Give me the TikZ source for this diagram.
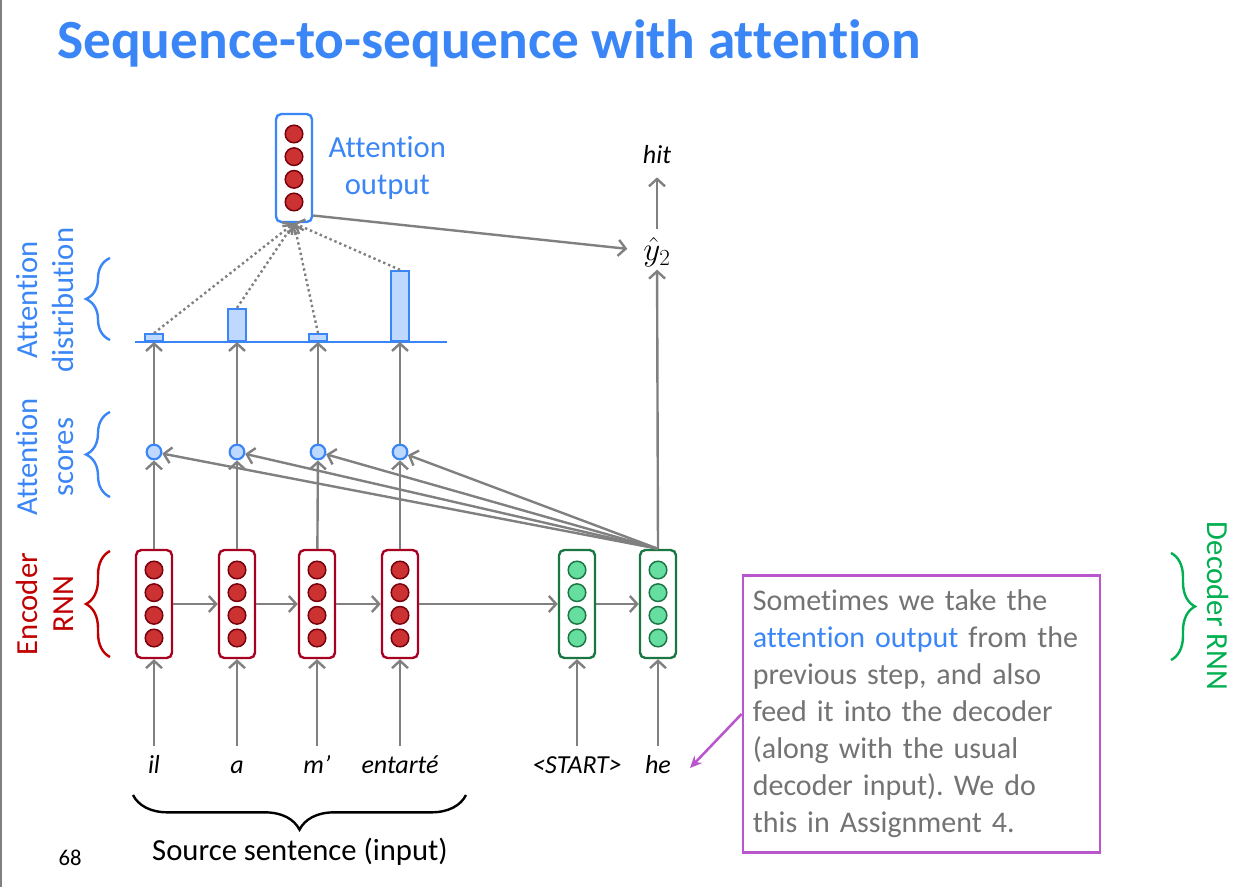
\documentclass[tikz,border=0pt]{standalone}
\usepackage{amsmath}
\usepackage{fontspec}
\setmainfont{Carlito}[Ligatures=NoCommon]
\usetikzlibrary{arrows.meta,positioning,calc,decorations.pathreplacing}
\definecolor{AttBlue}{RGB}{59,134,246}
\definecolor{AttLight}{RGB}{191,216,255}
\definecolor{EncRed}{RGB}{168,0,32}
\definecolor{EncDot}{RGB}{204,50,50}
\definecolor{EncDotLine}{RGB}{120,0,12}
\definecolor{DecGreen}{RGB}{28,118,68}
\definecolor{DecDot}{RGB}{102,222,160}
\definecolor{LabelRed}{RGB}{192,0,0}
\definecolor{LabelGreen}{RGB}{0,176,80}
\definecolor{ArrGray}{RGB}{128,128,128}
\definecolor{NoteGray}{RGB}{115,115,115}
\definecolor{NotePurple}{RGB}{185,85,205}
\frenchspacing

\begin{document}
\begin{tikzpicture}[
  x=0.75pt, y=-0.75pt,
  cell/.style n args={3}{draw=#1, line width=1.8pt, rounded corners=4pt, fill=white,
    minimum width=27pt, minimum height=81pt, inner sep=0pt,
    path picture={
      \draw[draw=#2, fill=#3, line width=1.1pt] ([yshift=-15pt]path picture bounding box.north) circle (6.6pt);
      \draw[draw=#2, fill=#3, line width=1.1pt] ([yshift=-32pt]path picture bounding box.north) circle (6.6pt);
      \draw[draw=#2, fill=#3, line width=1.1pt] ([yshift=-49pt]path picture bounding box.north) circle (6.6pt);
      \draw[draw=#2, fill=#3, line width=1.1pt] ([yshift=-66pt]path picture bounding box.north) circle (6.6pt);
    }},
  enccell/.style={cell={EncRed}{EncDotLine}{EncDot}},
  deccell/.style={cell={DecGreen}{DecGreen}{DecDot}},
  outcell/.style={cell={AttBlue}{EncDotLine}{EncDot}},
  score/.style={circle, draw=AttBlue, fill=AttLight, line width=1.6pt, minimum size=11pt, inner sep=0pt},
  bar/.style={draw=AttBlue, fill=AttLight, line width=1.6pt, minimum width=13pt, inner sep=0pt, anchor=south},
  arr/.style={-{Straight Barb[length=5.5pt,width=12pt]}, line width=1.8pt, ArrGray},
  dotarr/.style={arr, dash pattern=on 1.8pt off 2.2pt},
  word/.style={font=\fontsize{19.5}{22}\selectfont\itshape, anchor=base, text height=13pt, text depth=3pt, inner sep=0pt, outer sep=7pt},
  side/.style={font=\fontsize{23}{27.5}\selectfont, align=center},
  brc/.style={decorate, decoration={brace, amplitude=18pt}, line width=1.8pt},
  note/.style={draw=NotePurple, line width=1.9pt, text=NoteGray, align=left, text width=253pt,
    inner xsep=7.5pt, minimum width=268pt, minimum height=208pt, font=\fontsize{22.5}{27.75}\selectfont}
]
  \useasboundingbox (0,0) rectangle (1241,887);
  \draw[ArrGray, line width=1pt] (1,0) -- (1,887);

  % title
  \node[font=\fontsize{41.5}{50}\selectfont\bfseries, text=AttBlue, anchor=base west, inner sep=0pt] (title) at (57,59) {Sequence-to-sequence with attention};

  % rnn cells
  \node[enccell] (e1) at (154,604) {};
  \node[enccell] (e2) at (237,604) {};
  \node[enccell] (e3) at (317,604) {};
  \node[enccell] (e4) at (400,604) {};
  \node[deccell] (d1) at (577,604) {};
  \node[deccell] (d2) at (658,604) {};
  \node[outcell] (ao) at (294,168) {};
  \node[side, text=AttBlue, right=8pt of ao] (aolabel) {Attention\\output};

  % scores and distribution
  \node[score] (s1) at (154,452) {};
  \node[score] (s2) at (237,452) {};
  \node[score] (s3) at (318,452) {};
  \node[score] (s4) at (400,452) {};
  \coordinate (base) at (0,342);
  \draw[AttBlue, line width=1.8pt] (135,342) -- (447,342);
  \node[bar, minimum height=5pt] (b1) at (154,342) {};
  \node[bar, minimum height=24pt] (b2) at (237,342) {};
  \node[bar, minimum height=5pt] (b3) at (318,342) {};
  \node[bar, minimum height=52.5pt] (b4) at (400,342) {};

  % words
  \node[word] (w1) at (154,773) {il};
  \node[word] (w2) at (237,773) {a};
  \node[word] (w3) at (317,773) {m’};
  \node[word] (w4) at (400,773) {entarté};
  \node[word] (w5) at (577,773) {<START>};
  \node[word] (w6) at (658,773) {he};
  \node[font=\fontsize{24}{28}\selectfont, inner sep=2pt] (yh) at (657,252) {$\hat{y}_2$};
  \node[word] (hit) at (657,164) {hit};

  % connectors
  \draw[arr] (w1) -- (e1);
  \draw[arr] (w2) -- (e2);
  \draw[arr] (w3) -- (e3);
  \draw[arr] (w4) -- (e4);
  \draw[arr] (w5) -- (d1);
  \draw[arr] (w6) -- (d2);
  \draw[arr] (e1) -- (e2);
  \draw[arr] (e2) -- (e3);
  \draw[arr] (e3) -- (e4);
  \draw[arr] (e4) -- (d1);
  \draw[arr] (d1) -- (d2);
  \draw[arr] (e1) -- (s1);
  \draw[arr] (e2) -- (s2);
  \draw[arr] (e3) -- (s3);
  \draw[arr] (e4) -- (s4);
  \draw[arr] (d2.north) -- (s1);
  \draw[arr] (d2.north) -- (s2);
  \draw[arr] (d2.north) -- (s3);
  \draw[arr] (d2.north) -- (s4);
  \draw[arr] (s1) -- (s1 |- base);
  \draw[arr] (s2) -- (s2 |- base);
  \draw[arr] (s3) -- (s3 |- base);
  \draw[arr] (s4) -- (s4 |- base);
  \draw[dotarr] (b1.north) -- (ao.south);
  \draw[dotarr] (b2.north) -- (ao.south);
  \draw[dotarr] (b3.north) -- (ao.south);
  \draw[dotarr] (b4.north) -- (ao.south);
  \draw[arr] (d2.north) -- (yh);
  \draw[arr, shorten <=4pt] (yh) -- (hit);
  \draw[arr, shorten >=10pt] (ao.-68) -- (yh);

  % braces and side labels
  \draw[brc, AttBlue] (110,340) -- (110,258);
  \draw[brc, AttBlue] (110,497) -- (110,412);
  \draw[brc, LabelRed] (110,657) -- (110,551);
  \draw[brc, LabelGreen] (1171,553) -- (1171,660);
  \draw[brc, black, decoration={amplitude=26pt}] (466,795) -- (133,795);
  \node[side, text=AttBlue, rotate=90] (ldist) at (45,300) {Attention\\distribution};
  \node[side, text=AttBlue, rotate=90] (lscore) at (45,457) {Attention\\scores};
  \node[side, text=LabelRed, rotate=90] (lenc) at (45,604) {Encoder\\RNN};
  \node[side, text=LabelGreen, rotate=-90] (ldec) at (1218,606) {Decoder RNN};
  \node[side] (src) at (300,852) {Source sentence (input)};
  \node[font=\fontsize{17}{20}\selectfont] (pagenum) at (70,858) {68};

  % note
  \node[note] (nt) at (921.5,714) {Sometimes we take the\\\textcolor{AttBlue}{attention output} from the\\previous step, and also\\feed it into the decoder\\(along with the usual\\decoder input). We do\\this in Assignment 4.};
  \coordinate (hetip) at (690,768);
  \draw[NotePurple, line width=1.9pt, -{Stealth[length=9pt,width=8pt]}] (nt.west) -- (hetip);
\end{tikzpicture}
\end{document}
